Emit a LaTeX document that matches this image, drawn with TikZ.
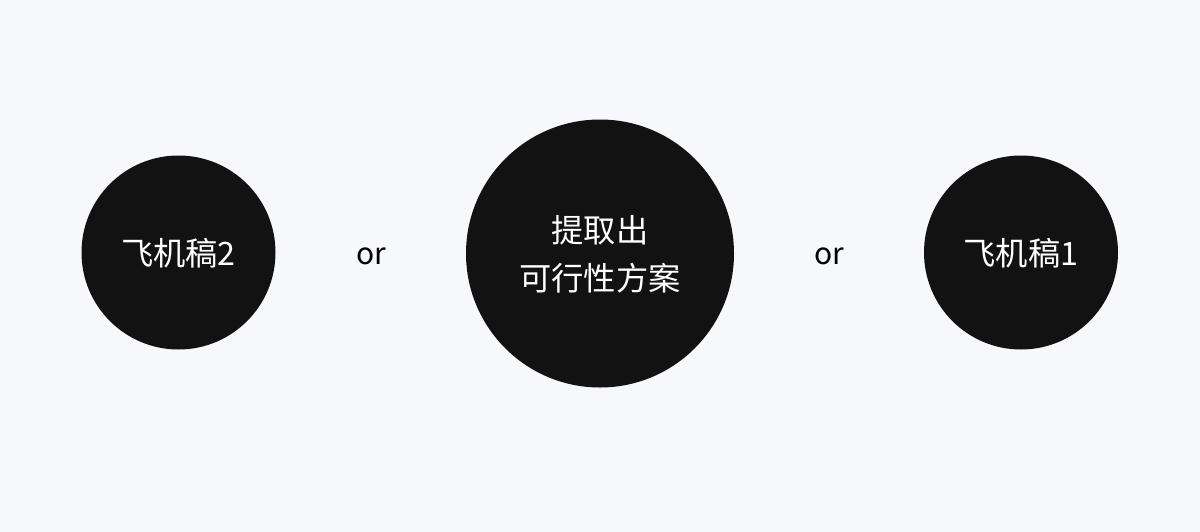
\documentclass[tikz,border=0pt]{standalone}
\usepackage{fontspec}
\usepackage{xcolor}
\newfontfamily\cjk{Noto Sans CJK SC}
\definecolor{bgcol}{RGB}{247,248,252}
\definecolor{blobcol}{RGB}{18,18,18}

\begin{document}
\begin{tikzpicture}[x=0.75pt,y=0.75pt,yscale=-1,xscale=1,
  blob/.style={circle,fill=blobcol,inner sep=0pt,text=white,align=center,
    text depth=1pt,font=\cjk\fontsize{24.2}{35.6}\selectfont},
  ortext/.style={inner sep=0.75pt,text=black,font=\cjk\fontsize{22.5}{27}\selectfont}]
%set diagram size 1200 x 532
\fill[bgcol] (0,0) rectangle (1200,532);
%Shape: Circle left
\node[blob,minimum size=145.5pt] (draft2) at (178.5,252.5) {飞机稿2};
%Shape: Circle middle
\node[blob,minimum size=201pt] (plan) at (600,253.5) {提取出\\可行性方案};
%Shape: Circle right
\node[blob,minimum size=145.5pt] (draft1) at (1021,252.5) {飞机稿1};
% Text Node
\node[ortext] (orleft) at (371,256) {or};
% Text Node
\node[ortext] (orright) at (829,256) {or};
\end{tikzpicture}
\end{document}
